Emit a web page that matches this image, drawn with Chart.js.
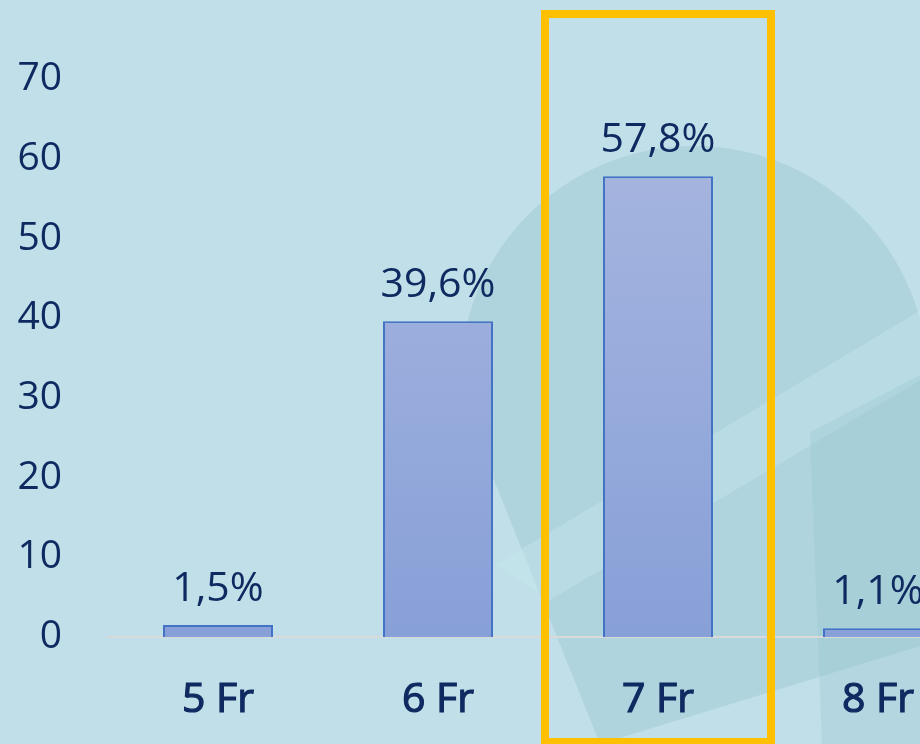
<!DOCTYPE html>
<html>
<head>
<meta charset="utf-8">
<script src="https://cdn.jsdelivr.net/npm/chart.js@4.4.1/dist/chart.umd.min.js"></script>
<style>
  html, body { margin: 0; padding: 0; overflow: hidden; background: #c0dfe8; }
  #chart { display: block; }
</style>
</head>
<body>
<canvas id="chart" width="988" height="744"></canvas>
<script>
// datos del gráfico
const categories = ['5 Fr', '6 Fr', '7 Fr', '8 Fr'];
const values = [1.5, 39.6, 57.8, 1.1];
const valueLabels = ['1,5%', '39,6%', '57,8%', '1,1%'];
const highlightIndex = 2;

const textColor = '#0f2a60';

// fondo decorativo
const backgroundPlugin = {
  id: 'fondo',
  beforeDraw(chart) {
    const ctx = chart.ctx;
    ctx.save();
    ctx.fillStyle = '#c0dfe8';
    ctx.fillRect(0, 0, chart.width, chart.height);
    ctx.fillStyle = 'rgba(150, 195, 205, 0.4)';
    ctx.beginPath();
    ctx.arc(694, 380, 234, Math.PI, 2 * Math.PI);
    ctx.lineTo(940, 640);
    ctx.lineTo(600, 744);
    ctx.lineTo(470, 420);
    ctx.closePath();
    ctx.fill();
    // banda diagonal clara
    ctx.fillStyle = 'rgba(200, 232, 240, 0.4)';
    ctx.beginPath();
    ctx.moveTo(495, 565);
    ctx.lineTo(988, 270);
    ctx.lineTo(988, 340);
    ctx.lineTo(550, 600);
    ctx.closePath();
    ctx.fill();
    // bloque derecho
    ctx.fillStyle = 'rgba(150, 195, 205, 0.3)';
    ctx.beginPath();
    ctx.moveTo(810, 432);
    ctx.lineTo(988, 340);
    ctx.lineTo(988, 744);
    ctx.lineTo(822, 744);
    ctx.closePath();
    ctx.fill();
    ctx.restore();
  }
};

// etiquetas de valor sobre las barras + marco amarillo
const labelsPlugin = {
  id: 'etiquetas',
  afterDatasetsDraw(chart) {
    const ctx = chart.ctx;
    const meta = chart.getDatasetMeta(0);
    ctx.save();
    ctx.font = '41px "Open Sans"';
    ctx.fillStyle = textColor;
    ctx.textAlign = 'center';
    ctx.textBaseline = 'alphabetic';
    meta.data.forEach((bar, i) => {
      ctx.fillText(valueLabels[i], bar.x, bar.y - 24);
    });
    ctx.restore();
  },
  afterDraw(chart) {
    const ctx = chart.ctx;
    const x = chart.scales.x;
    const cx = x.getPixelForValue(highlightIndex);
    ctx.save();
    ctx.strokeStyle = '#ffc000';
    ctx.lineWidth = 8;
    ctx.strokeRect(cx - 113, 14, 226, 728);
    ctx.restore();
  }
};

const ctx = document.getElementById('chart').getContext('2d');
new Chart(ctx, {
  type: 'bar',
  data: {
    labels: categories,
    datasets: [{
      data: values,
      backgroundColor: function(context) {
        const area = context.chart.chartArea;
        if (!area) return '#9aaadb';
        const g = context.chart.ctx.createLinearGradient(0, area.top, 0, area.bottom);
        g.addColorStop(0, '#aab8e0');
        g.addColorStop(1, '#88a0d8');
        return g;
      },
      borderColor: '#4472c4',
      borderWidth: 2,
      categoryPercentage: 0.5,
      barPercentage: 1
    }]
  },
  options: {
    responsive: false,
    animation: false,
    layout: { padding: { top: 79, left: 0, right: 0, bottom: 0 } },
    plugins: {
      legend: { display: false },
      tooltip: { enabled: false }
    },
    scales: {
      x: {
        grid: { display: false, drawTicks: false },
        border: { display: true, color: '#d9d9d9', width: 2 },
        ticks: {
          color: textColor,
          font: { family: 'Open Sans', size: 41 },
          textStrokeColor: textColor,
          textStrokeWidth: 1.2,
          padding: 39,
          maxRotation: 0
        },
        afterFit(scale) { scale.height = 107; }
      },
      y: {
        min: 0,
        max: 70,
        grid: { display: false, drawTicks: false },
        border: { display: false },
        ticks: {
          stepSize: 10,
          color: textColor,
          font: { family: 'Open Sans', size: 39 },
          padding: 46
        },
        afterFit(scale) { scale.width = 108; }
      }
    }
  },
  plugins: [backgroundPlugin, labelsPlugin]
});
</script>
</body>
</html>
